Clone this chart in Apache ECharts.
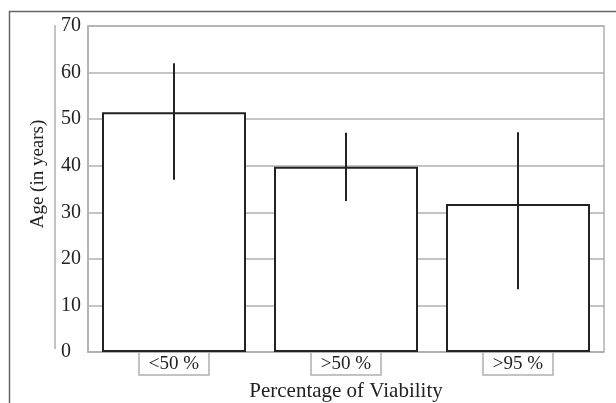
<!DOCTYPE html>
<html>
<head>
<meta charset="utf-8">
<script src="https://cdn.jsdelivr.net/npm/echarts@6/dist/echarts.min.js"></script>
<style>html,body{margin:0;padding:0;background:#fff;}#c{width:616px;height:403px;}</style>
</head>
<body>
<div id="c"></div>
<script>
const categories = ['<50 %', '>50 %', '>95 %'];
const meanAge = [51.5, 39.8, 31.8];
const errLow = [37, 32.4, 13.5];
const errHigh = [62, 47.1, 47.2];
const yTicks = [0, 10, 20, 30, 40, 50, 60, 70];
const xTitle = 'Percentage of Viability';
const yTitle = 'Age (in years)';

const FONT = '"Liberation Serif", "DejaVu Serif", serif';
const chart = echarts.init(document.getElementById('c'), null, {renderer: 'canvas'});
chart.setOption({
  animation: false,
  backgroundColor: '#fff',
  grid: {left: 88, right: 12, top: 26, bottom: 51, containLabel: false, outerBoundsMode: 'none',
         show: true, borderColor: '#b0b0b0', borderWidth: 1.5, backgroundColor: 'transparent'},
  xAxis: {
    type: 'category',
    data: categories,
    axisLine: {show: true, lineStyle: {color: '#b0b0b0', width: 1.5}},
    axisTick: {show: false},
    splitLine: {show: false},
    axisLabel: {
      margin: 0,
      fontFamily: FONT, fontSize: 19, color: '#222',
      borderColor: '#b0b0b0', borderWidth: 1.5,
      width: 54, height: 19, lineHeight: 19,
      padding: [3, 8, 1, 8], align: 'center'
    },
    name: xTitle,
    nameLocation: 'middle',
    nameGap: 26,
    nameTextStyle: {fontFamily: FONT, fontSize: 21, color: '#222'}
  },
  yAxis: {
    type: 'value',
    min: yTicks[0], max: yTicks[yTicks.length - 1], interval: 10,
    axisLine: {show: true, lineStyle: {color: '#b0b0b0', width: 1.5}},
    axisTick: {show: false},
    splitLine: {show: true, lineStyle: {color: '#b0b0b0', width: 1.5}},
    axisLabel: {margin: 27, align: 'left', fontFamily: FONT, fontSize: 20, color: '#222'}
  },
  graphic: [
    {type: 'polyline', z: 100, shape: {points: [[9.5, 410], [9.5, 11.5], [620, 11.5]]}, style: {stroke: '#666', lineWidth: 1.5, fill: null}},
    {type: 'line', z: 100, shape: {x1: 55, y1: 25, x2: 55, y2: 349}, style: {stroke: '#b0b0b0', lineWidth: 1.5}},
    {type: 'text', z: 100, x: 38, y: 174, rotation: Math.PI / 2,
     style: {text: yTitle, font: '19px ' + FONT, fill: '#222', align: 'center', verticalAlign: 'middle'}}
  ],
  series: [
    {
      type: 'bar',
      data: meanAge,
      barWidth: 144,
      itemStyle: {color: '#fff', borderColor: '#222', borderWidth: 2},
      z: 2
    },
    {
      type: 'custom',
      z: 5,
      data: categories.map((c, i) => [i, errLow[i], errHigh[i]]),
      renderItem: function (params, api) {
        const i = api.value(0);
        const p1 = api.coord([i, api.value(1)]);
        const p2 = api.coord([i, api.value(2)]);
        return {type: 'line', shape: {x1: p1[0], y1: p1[1], x2: p2[0], y2: p2[1]}, style: {stroke: '#222', lineWidth: 2}};
      },
      encode: {x: 0, y: [1, 2]}
    }
  ]
});
</script>
</body>
</html>
